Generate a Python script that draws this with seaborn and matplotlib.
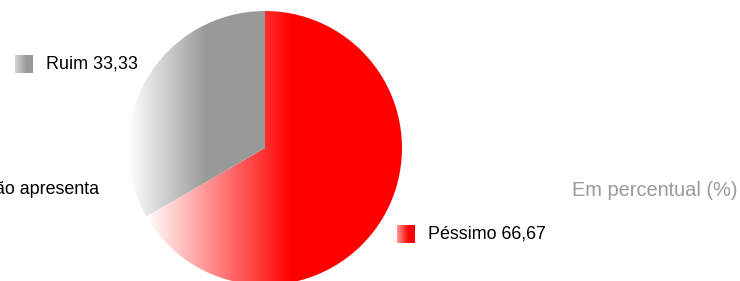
import numpy as np
import matplotlib
matplotlib.use("Agg")
import matplotlib.pyplot as plt
import seaborn as sns

# data
labels = ["Não apresenta", "Péssimo", "Ruim"]
values = [0.0, 66.67, 33.33]
colors = ["#3366cc", "#ff0000", "#999999"]
subtitle = "Em percentual (%)"

sns.set_theme(style="white")
plt.rcParams["font.family"] = ["Liberation Sans", "DejaVu Sans"]

W, H = 740, 281
fig = plt.figure(figsize=(W / 100, H / 100), dpi=100)
ax = fig.add_axes([0, 0, 1, 1])


def gradient(color, n=256, frac=0.57, start=0.0):
    c = np.array(matplotlib.colors.to_rgb(color))
    t = start + (1 - start) * np.clip(np.linspace(0, 1, n) / frac, 0, 1)
    t = t[:, None]
    return ((1 - t) * np.ones(3) + t * c)[None, :, :]


cx, cy, r = 265, H - 148, 137
shown = [(l, v, c) for l, v, c in zip(labels, values, colors) if v > 0]
wedges, _ = ax.pie([v for _, v, _ in shown], startangle=90, counterclock=False,
                   center=(cx, cy), radius=r, colors=[c for _, _, c in shown])

# horizontal gradient fill clipped to each wedge
for w, (_, _, c) in zip(wedges, shown):
    w.set_facecolor("none")
    w.set_edgecolor("none")
    bb = w.get_path().get_extents(w.get_patch_transform())
    im = ax.imshow(gradient(c), extent=(bb.x0, bb.x1, bb.y0, bb.y1),
                   aspect="auto", interpolation="bilinear", zorder=2)
    im.set_clip_path(w)

# labels with gradient squares (the zero slice label runs off the left edge, as in the source)
lab_pos = {"Ruim": (15, 64, "left"), "Péssimo": (397, 234, "left"),
           "Não apresenta": (99, 190, "right")}
for l, v, c in zip(labels, values, colors):
    x, y, ha = lab_pos[l]
    txt = l if v == 0 else f"{l} {v:.2f}".replace(".", ",")
    if ha == "left":
        ax.imshow(gradient(c, frac=0.65, start=0.4),
                  extent=(x, x + 18, H - y - 9, H - y + 9),
                  aspect="auto", interpolation="bilinear", zorder=3)
        ax.text(x + 31, H - y, txt, ha="left", va="center", fontsize=12.9, color="#000000")
    else:
        ax.text(x, H - y, txt, ha="right", va="center", fontsize=12.9, color="#000000")

ax.text(738, H - 190, subtitle, ha="right", va="center", fontsize=14.4, color="#999999")

ax.set_xlim(0, W)
ax.set_ylim(0, H)
ax.axis("off")
fig.savefig("out.png", dpi=100)
